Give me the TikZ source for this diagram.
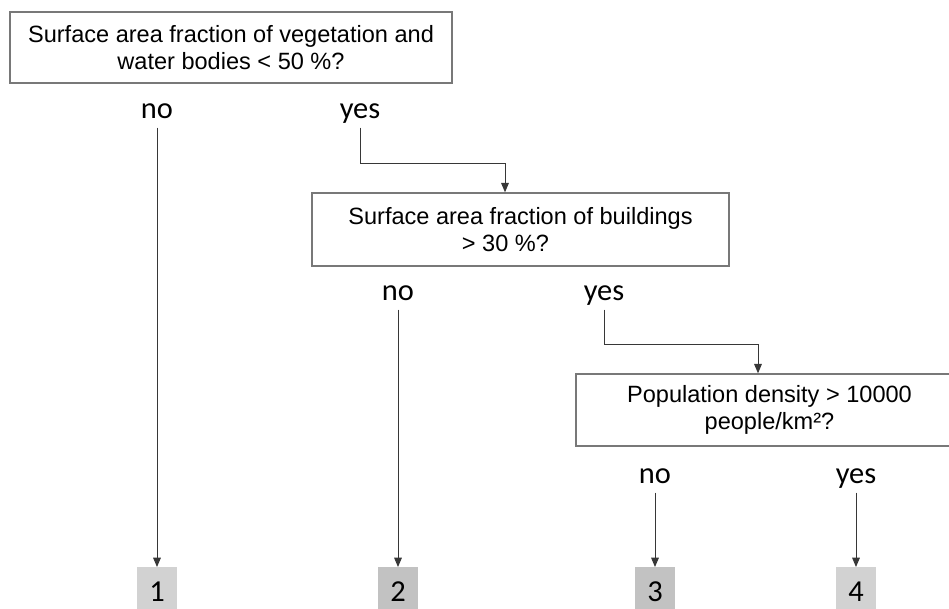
\documentclass[tikz,border=0pt]{standalone}
\usepackage{fontspec}
\setmainfont{Liberation Sans}
\newfontfamily\labelfont{Carlito}
\usetikzlibrary{arrows.meta}

\definecolor{boxline}{RGB}{120,120,120}
\definecolor{wireline}{RGB}{55,55,55}
\definecolor{leaflight}{RGB}{210,210,210}
\definecolor{leafdark}{RGB}{194,194,194}

\tikzset{
  question/.style={draw=boxline, line width=1.2pt, align=center, inner sep=0pt,
    font=\fontsize{20.1}{23.5}\selectfont},
  answer/.style={anchor=base, inner sep=2pt, text depth=6pt,
    font=\labelfont\fontsize{26}{30}\selectfont},
  leaf/.style={anchor=north, minimum width=1.2cm, minimum height=1.44cm, inner sep=0pt,
    font=\labelfont\fontsize{26}{30}\selectfont},
  arr/.style={draw=wireline, line width=0.8pt, -{Triangle[length=2.8mm,width=2.3mm]}},
}

\begin{document}
\begin{tikzpicture}[x=0.03cm, y=-0.03cm]
	\useasboundingbox (0,0) rectangle (949,608);

	%%%%% questions %%%%%
	\node[question, minimum width=13.26cm, minimum height=2.13cm] (q1) at (231,47.5)
		{Surface area fraction of vegetation and\\water bodies < 50 \%?};
	\node[question, minimum width=12.51cm, minimum height=2.19cm] (q2) at (520.5,229.5)
		{Surface area fraction of buildings\\> 30 \%?\hspace*{0.9cm}};
	\node[question, minimum width=11.61cm, minimum height=2.16cm] (q3) at (769.5,410)
		{Population density > 10000\\people/km²?};

	%%%%% answers %%%%%
	\node[answer] (no1) at (157,118) {no};
	\node[answer] (yes1) at (360,118) {yes};
	\node[answer] (no2) at (398,300) {no};
	\node[answer] (yes2) at (604,300) {yes};
	\node[answer] (no3) at (655,483) {no};
	\node[answer] (yes3) at (856,483) {yes};

	%%%%% classes %%%%%
	\node[leaf, fill=leaflight] (c1) at (157,567) {1};
	\node[leaf, fill=leafdark] (c2) at (398,567) {2};
	\node[leaf, fill=leafdark] (c3) at (655,567) {3};
	\node[leaf, fill=leaflight] (c4) at (856,567) {4};

	\coordinate (bend1) at (505,163);
	\coordinate (bend2) at (758,344);

	%%%%% arrows %%%%%
	\draw[arr] (no1.south) -- (c1.north);
	\draw[arr] (no2.south) -- (c2.north);
	\draw[arr] (no3.south) -- (c3.north);
	\draw[arr] (yes3.south) -- (c4.north);
	\draw[arr] (yes1.south) |- (bend1) -- (bend1 |- q2.north);
	\draw[arr] (yes2.south) |- (bend2) -- (bend2 |- q3.north);
\end{tikzpicture}
\end{document}
